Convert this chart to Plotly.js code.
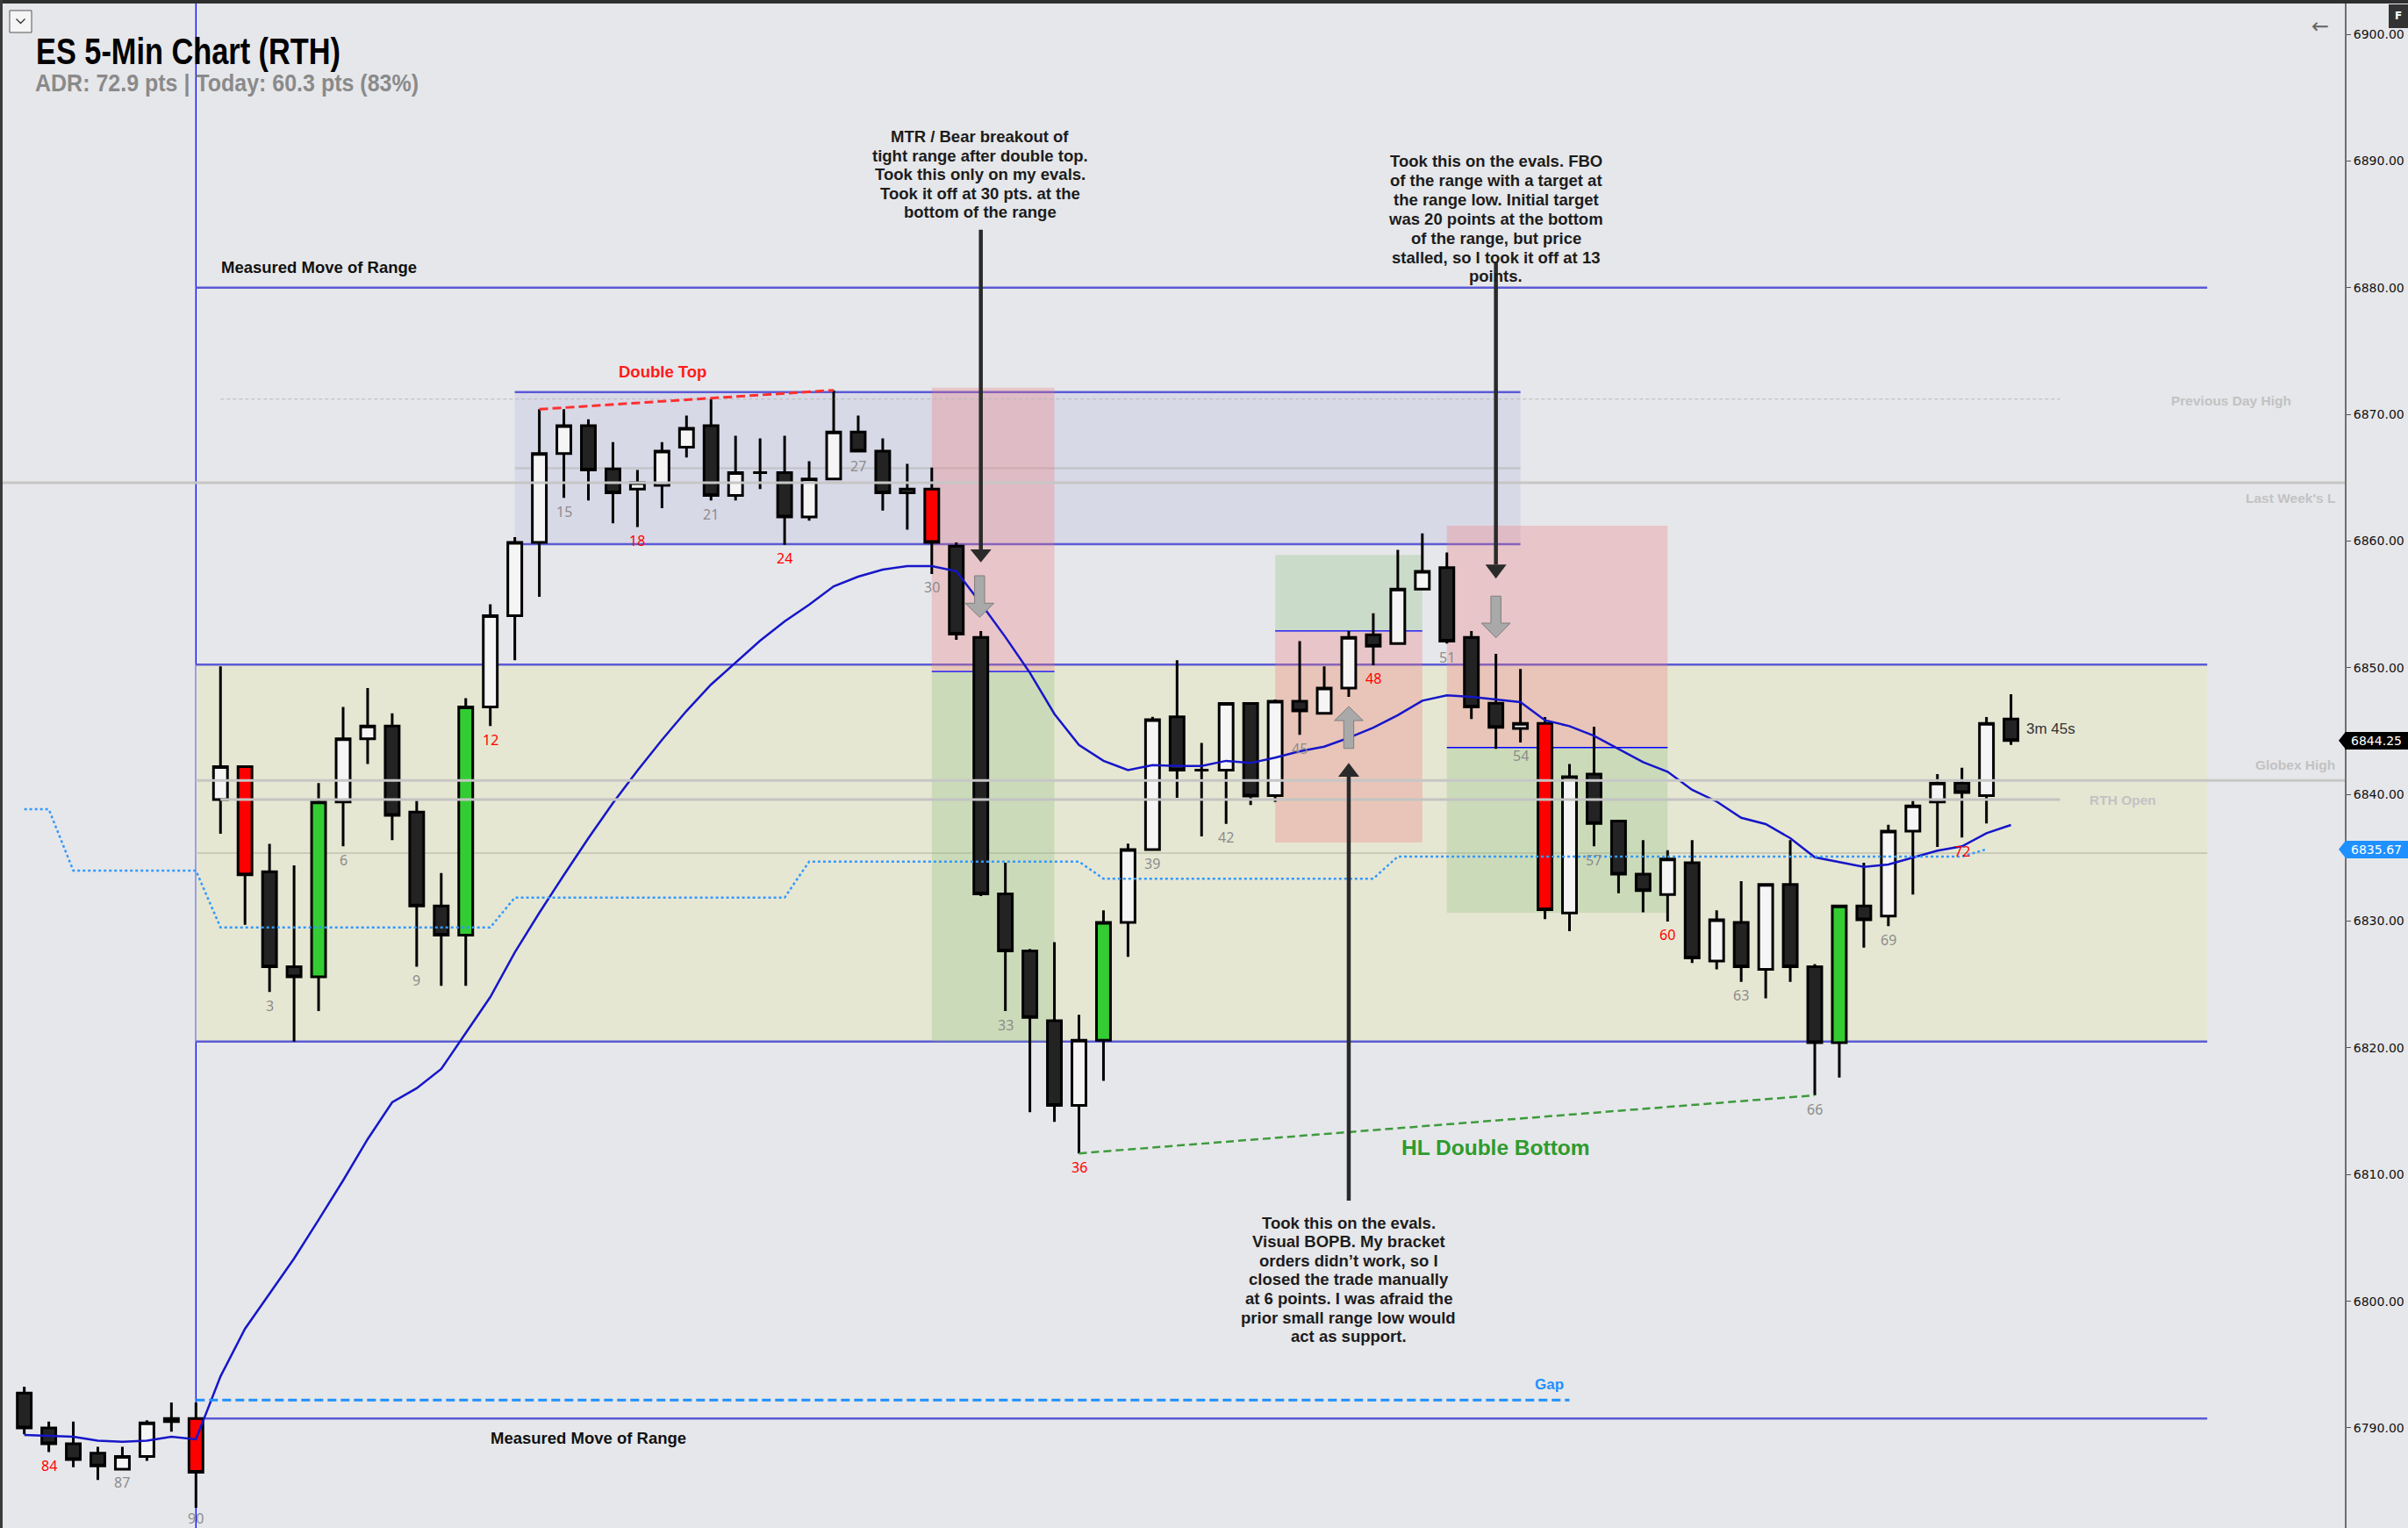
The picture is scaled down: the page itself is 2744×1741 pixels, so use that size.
<!DOCTYPE html>
<html>
<head>
<meta charset="utf-8">
<script src="https://cdn.plot.ly/plotly-3.0.1.min.js"></script>
<style>
html,body{margin:0;padding:0;background:#e6e7ea;overflow:hidden;}
#chart{width:2744px;height:1741px;}
</style>
</head>
<body>
<div id="chart"></div>
<script>
// ---------------- DATA ----------------
const barNum = [83,84,85,86,87,88,89,90,
 1,2,3,4,5,6,7,8,9,10,
 11,12,13,14,15,16,17,18,19,20,
 21,22,23,24,25,26,27,28,29,30,
 31,32,33,34,35,36,37,38,39,40,
 41,42,43,44,45,46,47,48,49,50,
 51,52,53,54,55,56,57,58,59,60,
 61,62,63,64,65,66,67,68,69,70,
 71,72,73,74];

const opens = [6792.75,6790.0,6788.75,6788.0,6786.75,6787.75,6790.5,6790.75,
 6839.6,6842.2,6833.9,6826.4,6825.6,6839.4,6844.4,6845.4,6838.6,6831.2,
 6828.9,6846.9,6854.1,6859.9,6866.9,6869.1,6865.7,6864.1,6864.4,6867.4,
 6869.1,6863.6,6865.4,6865.4,6861.9,6864.9,6868.6,6867.1,6863.8,6864.1,
 6859.6,6852.4,6832.15,6827.64,6822.14,6815.45,6820.6,6829.89,6835.65,6846.13,
 6841.92,6841.92,6847.18,6839.9,6847.35,6846.4,6848.4,6852.6,6851.9,6856.2,
 6857.9,6852.4,6847.2,6845.2,6845.6,6830.65,6841.6,6837.9,6833.7,6832.1,
 6834.6,6826.85,6829.9,6826.2,6832.9,6826.4,6820.4,6831.2,6830.4,6837.1,
 6839.4,6840.9,6839.9,6845.95];

const highs = [6793.25,6790.5,6790.5,6788.5,6788.5,6790.6,6792.0,6792.0,
 6850.1,6842.3,6836.1,6834.4,6840.9,6846.9,6848.4,6846.4,6839.5,6833.8,
 6847.6,6855.0,6860.3,6870.4,6870.4,6869.6,6867.8,6865.6,6867.8,6869.9,
 6871.2,6868.3,6868.1,6868.3,6866.3,6871.9,6869.9,6868.1,6866.1,6865.8,
 6859.9,6852.9,6834.6,6827.8,6828.34,6822.6,6830.85,6836.12,6846.13,6850.6,
 6844.07,6847.28,6847.28,6847.5,6852.1,6850.1,6852.9,6854.3,6859.3,6860.6,
 6859.1,6852.9,6851.1,6849.9,6846.1,6842.4,6845.35,6837.9,6836.4,6835.6,
 6836.4,6830.85,6833.15,6833.0,6836.4,6826.6,6831.3,6834.6,6837.6,6839.5,
 6841.6,6842.1,6846.1,6847.9];

const lows = [6789.5,6788.1,6786.9,6785.9,6786.75,6787.4,6789.7,6783.7,
 6836.9,6829.7,6824.4,6820.5,6822.9,6835.9,6842.4,6836.4,6826.4,6824.9,
 6824.9,6845.4,6850.6,6855.6,6863.4,6863.2,6861.4,6861.1,6862.6,6866.6,
 6863.2,6863.2,6864.1,6859.7,6861.6,6864.8,6867.0,6862.4,6860.9,6857.4,
 6852.2,6831.98,6822.9,6814.92,6814.16,6811.67,6817.4,6827.18,6835.6,6839.73,
 6836.69,6837.68,6839.17,6839.4,6844.7,6846.3,6847.7,6850.2,6851.8,6856.1,
 6851.9,6845.95,6843.6,6844.1,6830.15,6829.2,6835.9,6832.2,6830.7,6829.97,
 6826.7,6826.2,6825.2,6823.9,6825.2,6816.25,6817.65,6827.9,6829.6,6832.1,
 6835.85,6836.6,6837.7,6843.9];

const closes = [6790.0,6788.75,6787.5,6787.0,6787.75,6790.4,6790.75,6786.5,
 6842.2,6833.65,6826.4,6825.6,6839.4,6844.4,6845.4,6838.35,6831.2,6828.9,
 6846.9,6854.1,6859.9,6866.9,6869.1,6865.6,6863.8,6864.6,6867.1,6868.9,
 6863.6,6865.4,6865.4,6861.9,6864.9,6868.6,6867.1,6863.8,6864.1,6859.9,
 6852.65,6832.15,6827.64,6822.4,6815.45,6820.6,6829.89,6835.65,6845.9,6841.92,
 6841.92,6847.18,6839.87,6847.35,6846.6,6848.4,6852.4,6851.7,6856.2,6857.6,
 6852.1,6846.9,6845.3,6845.6,6830.9,6841.4,6837.7,6833.7,6832.4,6834.9,
 6827.1,6830.1,6826.4,6832.9,6826.4,6820.4,6831.2,6830.1,6837.1,6839.1,
 6840.9,6840.15,6845.6,6844.25];

// w = bull (white), b = bear (black), r = red signal bar, g = green signal bar
const colorTag = ['b','b','b','b','w','w','w','r',
 'w','r','b','b','g','w','w','b','b','b',
 'g','w','w','w','w','b','b','w','w','w',
 'b','w','w','b','w','w','b','b','w','r',
 'b','b','b','b','b','w','g','w','w','b',
 'w','w','b','w','b','w','w','b','w','w',
 'b','b','b','w','r','w','b','b','b','w',
 'b','w','b','w','b','b','g','b','w','w',
 'w','b','w','b'];

const ema20 = [6789.45,6789.4,6789.3,6789.0,6788.9,6789.0,6789.3,6789.1,
 6794.06,6797.83,6800.6,6803.37,6806.42,6809.53,6812.79,6815.7,6816.81,6818.33,
 6821.17,6824.01,6827.54,6830.66,6833.64,6836.55,6839.32,6841.88,6844.31,6846.59,
 6848.67,6850.4,6852.13,6853.66,6854.97,6856.43,6857.19,6857.74,6858.02,6858.02,
 6857.62,6855.07,6852.42,6849.6,6846.35,6843.9,6842.65,6841.92,6842.32,6842.25,
 6842.25,6842.65,6842.48,6842.9,6843.4,6843.77,6844.47,6845.26,6846.25,6847.4,
 6847.82,6847.7,6847.51,6847.28,6845.85,6845.39,6844.63,6843.59,6842.55,6841.79,
 6840.36,6839.44,6838.16,6837.66,6836.55,6835.04,6834.66,6834.28,6834.47,6835.04,
 6835.56,6835.9,6836.94,6837.59];

const stepLine = [6838.83,6838.83,6833.98,6833.98,6833.98,6833.98,6833.98,6833.98,
 6829.5,6829.5,6829.5,6829.5,6829.5,6829.5,6829.5,6829.5,6829.5,6829.5,
 6829.5,6829.5,6831.86,6831.86,6831.86,6831.86,6831.86,6831.86,6831.86,6831.86,
 6831.86,6831.86,6831.86,6831.86,6834.7,6834.7,6834.7,6834.7,6834.7,6834.7,
 6834.7,6834.7,6834.7,6834.7,6834.7,6834.7,6833.35,6833.35,6833.35,6833.35,
 6833.35,6833.35,6833.35,6833.35,6833.35,6833.35,6833.35,6833.35,6835.1,6835.1,
 6835.1,6835.1,6835.1,6835.1,6835.1,6835.1,6835.1,6835.1,6835.1,6835.1,
 6835.1,6835.1,6835.1,6835.1,6835.1,6835.1,6835.1,6835.1,6835.1,6835.1,
 6835.1,6835.1,6835.67,null];

const labelBars = [84,87,90,3,6,9,12,15,18,21,24,27,30,33,36,39,42,45,48,51,54,57,60,63,66,69,72];
const redLabels = [84,12,18,24,36,48,60,72];

// levels
const rangeHi = 6850.25, rangeLo = 6820.5, mmHi = 6880, mmLo = 6790.75;
const tightHi = 6871.75, tightLo = 6859.75;
const prevDayHigh = 6871.2, lastWeekLow = 6864.6, globexHigh = 6841.1, rthOpen = 6839.6, gapLevel = 6792.2;
const lastPrice = 6844.25, bandPrice = 6835.67;
const trades = [
  {x0:30, x1:35, stop:6872.1, entry:6849.7, target:6820.5, side:'short'},
  {x0:44, x1:50, stop:6836.2, entry:6852.9, target:6858.9, side:'long'},
  {x0:51, x1:60, stop:6861.2, entry:6843.7, target:6830.66, side:'short'}
];

// ---------------- GEOMETRY HELPERS ----------------
const W = 2744, H = 1741, PW = 2672;
const X0PX = 223.3, DXPX = 27.95, Y6900PX = 39, PXPT = 14.436;
const B = px => (px - X0PX) / DXPX;
const P = py => 6900 - (py - Y6900PX) / PXPT;
const YPX = p => Y6900PX + (6900 - p) * PXPT;
const PX = px => px / PW;
const PY = py => 1 - py / H;
const pos = barNum.map((n, i) => i - 7);
const idxOf = n => barNum.indexOf(n);

// ---------------- TRACES ----------------
const traces = [];
traces.push({type:'scatter', mode:'lines', x:pos, y:ema20, line:{color:'#1616c8', width:2.5},
  hoverinfo:'skip', showlegend:false});
const fills = {w:'#f5f5f5', b:'#232323', r:'#ff0000', g:'#33cc33'};
['w','b','r','g'].forEach(k => {
  const ids = colorTag.map((c, i) => c === k ? i : -1).filter(i => i >= 0);
  traces.push({
    type:'candlestick',
    x: ids.map(i => pos[i]), open: ids.map(i => opens[i]), high: ids.map(i => highs[i]),
    low: ids.map(i => lows[i]), close: ids.map(i => closes[i]),
    increasing:{line:{color:'#000', width:3}, fillcolor:fills[k]},
    decreasing:{line:{color:'#000', width:3}, fillcolor:fills[k]},
    whiskerwidth:0, hoverinfo:'skip', showlegend:false
  });
});
traces.push({type:'scatter', mode:'lines', x:pos, y:stepLine, line:{color:'#3399ff', width:2.5, dash:'dot'},
  hoverinfo:'skip', showlegend:false});

// ---------------- SHAPES ----------------
const shapes = [];
const hline = (x0, x1, y, color, width, dash, layer) => ({type:'line', xref:'x', yref:'y', x0:x0, x1:x1, y0:y, y1:y,
  line:{color:color, width:width, dash:dash || 'solid'}, layer:layer || 'below'});
const rect = (x0, x1, y0, y1, fill, layer) => ({type:'rect', xref:'x', yref:'y', x0:x0, x1:x1, y0:y0, y1:y1,
  fillcolor:fill, line:{width:0}, layer:layer || 'below'});

shapes.push(rect(0, 82, rangeLo, rangeHi, '#e6e7d3'));
shapes.push(rect(13, 54, tightLo, tightHi, '#d8d9e7'));
shapes.push(hline(13, 54, (tightHi + tightLo) / 2, '#c4c4cc', 2.5));
shapes.push(hline(0, 82, (rangeHi + rangeLo) / 2, '#cacab9', 2));
const rangeBlue = '#5b5bd6';
shapes.push(hline(0, 82, rangeHi, rangeBlue, 2.5));
shapes.push(hline(0, 82, rangeLo, rangeBlue, 2.5));
shapes.push(hline(13, 54, tightHi, rangeBlue, 2.5));
shapes.push(hline(13, 54, tightLo, rangeBlue, 2.5));
shapes.push(hline(0, 82, mmHi, rangeBlue, 2.5));
shapes.push(hline(0, 82, mmLo, rangeBlue, 2.5));
shapes.push({type:'line', xref:'x', yref:'paper', x0:0, x1:0, y0:0, y1:1, line:{color:'#0000ff', width:1.3}, layer:'below'});
const riskFill = 'rgba(240,118,121,0.3)', rewardFill = 'rgba(144,192,125,0.3)';
trades.forEach(t => {
  shapes.push(rect(t.x0, t.x1, Math.min(t.stop, t.entry), Math.max(t.stop, t.entry), riskFill));
  shapes.push(rect(t.x0, t.x1, Math.min(t.target, t.entry), Math.max(t.target, t.entry), rewardFill));
  shapes.push(hline(t.x0, t.x1, t.entry, '#0000ff', 1.3));
});

shapes.push(hline(-9, 90, lastWeekLow, '#c6c6c6', 3, 'solid', 'above'));
shapes.push(hline(0, 90, globexHigh, '#c6c6c6', 3, 'solid', 'above'));
shapes.push(hline(1, 76, rthOpen, '#c3c3c3', 3, 'solid', 'above'));
shapes.push(hline(1, 76, prevDayHigh, '#b9b9b9', 1, '4px,3px', 'above'));
shapes.push(hline(0, 56, gapLevel, '#1e90ff', 3, '10px,5px', 'above'));
shapes.push({type:'line', xref:'x', yref:'y', x0:pos[idxOf(14)], y0:highs[idxOf(14)], x1:pos[idxOf(26)], y1:highs[idxOf(26)],
  line:{color:'#ff3030', width:3, dash:'10px,5px'}, layer:'above'});
shapes.push({type:'line', xref:'x', yref:'y', x0:pos[idxOf(36)], y0:lows[idxOf(36)], x1:pos[idxOf(66)], y1:lows[idxOf(66)],
  line:{color:'#3d9b3d', width:2.5, dash:'9px,5px'}, layer:'above'});

const darkArrows = [[32, 6884.57, 6859.34, 6858.32], [53, 6882.06, 6858.14, 6857.03], [47, 6807.94, 6841.4, 6842.48]];
darkArrows.forEach(a => {
  const [x, s, b, t] = a;
  shapes.push({type:'line', xref:'x', yref:'y', x0:x, x1:x, y0:s, y1:b, line:{color:'#2a2a2a', width:4.5}, layer:'above'});
  shapes.push({type:'path', xref:'x', yref:'y', path:`M ${x-0.43},${b} L ${x+0.43},${b} L ${x},${t} Z`,
    fillcolor:'#2a2a2a', line:{width:0}, layer:'above'});
});
const grayArrows = [[31.95, 6857.26, 6855.09, 6853.98], [53, 6855.65, 6853.52, 6852.36], [47, 6843.63, 6845.83, 6846.94]];
grayArrows.forEach(a => {
  const [x, s, b, t] = a, sw = 0.204, hw = 0.584;
  shapes.push({type:'path', xref:'x', yref:'y',
    path:`M ${x-sw},${s} L ${x+sw},${s} L ${x+sw},${b} L ${x+hw},${b} L ${x},${t} L ${x-hw},${b} L ${x-sw},${b} Z`,
    fillcolor:'#a9a9a9', line:{color:'#7d7d7d', width:1}, layer:'above'});
});

shapes.push({type:'rect', xref:'paper', yref:'paper', x0:-0.01, x1:1.03, y0:PY(4), y1:1.01, fillcolor:'#2f2f2f', line:{width:0}, layer:'above'});
shapes.push({type:'rect', xref:'paper', yref:'paper', x0:-0.01, x1:PX(3), y0:-0.01, y1:1.01, fillcolor:'#3a3a3a', line:{width:0}, layer:'above'});
shapes.push({type:'rect', xref:'paper', yref:'paper', x0:PX(11), x1:PX(36), y0:PY(37), y1:PY(12), fillcolor:'#f5f5f5', line:{color:'#555', width:1}, layer:'above'});
shapes.push({type:'path', xref:'paper', yref:'paper', path:`M ${PX(18.5)},${PY(21.5)} L ${PX(23.5)},${PY(26.5)} L ${PX(28.5)},${PY(21.5)}`, line:{color:'#333', width:1.3}, layer:'above'});
shapes.push({type:'rect', xref:'paper', yref:'paper', x0:PX(2722), x1:PX(2744), y0:PY(32), y1:PY(5), fillcolor:'#333', line:{width:0}, layer:'above'});
[[lastPrice, '#000'], [bandPrice, '#1e90ff']].forEach(tg => {
  const yp = YPX(tg[0]);
  shapes.push({type:'path', xref:'paper', yref:'paper', path:`M ${PX(2665)},${PY(yp)} L ${PX(2673)},${PY(yp-10)} L ${PX(2673)},${PY(yp+10)} Z`,
    fillcolor:tg[1], line:{width:0}, layer:'above'});
});

// ---------------- ANNOTATIONS ----------------
const ann = [];
const SANS = 'Liberation Sans, Arial, sans-serif';
ann.push({xref:'paper', yref:'paper', x:PX(40), y:PY(95), xanchor:'left', yanchor:'middle', showarrow:false,
  text:'<b>ADR: 72.9 pts | Today: 60.3 pts (83%)</b>', font:{family:SANS, size:28, color:'#8a8a8a'}});
const txt = (x, y, text, opts) => Object.assign({xref:'x', yref:'y', x:x, y:y, text:text, showarrow:false,
  xanchor:'center', yanchor:'middle'}, opts);
ann.push(txt(B(250), P(304.5), '<b>Measured Move of Range</b>', {xanchor:'left', font:{family:SANS, size:18.5, color:'#111'}}));
ann.push(txt(B(556.5), P(1638), '<b>Measured Move of Range</b>', {xanchor:'left', font:{family:SANS, size:18.5, color:'#111'}}));
ann.push(txt(B(754.7), P(423.3), '<b>Double Top</b>', {font:{family:SANS, size:18.5, color:'#ff1a1a'}}));
ann.push(txt(B(1704.5), P(1307), '<b>HL Double Bottom</b>', {font:{family:SANS, size:24.5, color:'#2e9b2e'}}));
ann.push(txt(B(1765), P(1577), '<b>Gap</b>', {font:{family:SANS, size:17, color:'#1e90ff'}}));
ann.push(txt(B(2306.7), P(830), '3m 45s', {xanchor:'left', font:{family:SANS, size:17, color:'#333'}}));

const notes = [
  {x:1116.5, y0:155.75, step:21.42, lines:['MTR / Bear breakout of', 'tight range after double top.', 'Took this only on my evals.', 'Took it off at 30 pts. at the', 'bottom of the range']},
  {x:1704.5, y0:183.75, step:21.87, lines:['Took this on the evals. FBO', 'of the range with a target at', 'the range low. Initial target', 'was 20 points at the bottom', 'of the range, but price', 'stalled, so I took it off at 13', 'points.']},
  {x:1536.5, y0:1393, step:21.6, lines:['Took this on the evals.', 'Visual BOPB. My bracket', 'orders didn\u2019t work, so I', 'closed the trade manually', 'at 6 points. I was afraid the', 'prior small range low would', 'act as support.']}
];
notes.forEach(n => n.lines.forEach((l, k) => {
  ann.push({xref:'x', yref:'paper', x:B(n.x), y:PY(n.y0 + k * n.step), xanchor:'center', yanchor:'middle', showarrow:false,
    text:'<b>' + l + '</b>', font:{family:SANS, size:18.5, color:'#1c1c1c'}});
}));

labelBars.forEach(n => {
  const i = idxOf(n);
  const ly = YPX(lows[i]);
  const shift = Math.min(15.5, H - 11 - ly);
  ann.push({xref:'x', yref:'y', x:pos[i], y:lows[i], yshift:-shift, xanchor:'center', yanchor:'middle', showarrow:false,
    text:String(n), font:{family:'Noto Sans, DejaVu Sans, sans-serif', size:16, color: redLabels.includes(n) ? '#ff0000' : '#8c8c8c'}});
});

const LVL = {family:SANS, size:15.5, color:'#c2c2c2'};
ann.push({xref:'paper', yref:'paper', x:PX(2542.75), y:PY(456.75), xanchor:'center', yanchor:'middle', showarrow:false, text:'<b>Previous Day High</b>', font:LVL});
ann.push({xref:'paper', yref:'paper', x:PX(2663), y:PY(567), xanchor:'right', yanchor:'middle', showarrow:false, text:'<b>Last Week\'s L</b>', font:LVL});
ann.push({xref:'paper', yref:'paper', x:PX(2663), y:PY(871.5), xanchor:'right', yanchor:'middle', showarrow:false, text:'<b>Globex High</b>', font:LVL});
ann.push({xref:'paper', yref:'paper', x:PX(2378.7), y:PY(911.7), xanchor:'left', yanchor:'middle', showarrow:false, text:'<b>RTH Open</b>', font:LVL});

[[lastPrice, '#000000'], [bandPrice, '#1e90ff']].forEach(tg => {
  ann.push({xref:'paper', yref:'paper', x:PX(2672), y:PY(YPX(tg[0])), xanchor:'left', yanchor:'middle', showarrow:false,
    text:tg[0].toFixed(2), bgcolor:tg[1], width:72, height:20, borderpad:0, borderwidth:0, align:'center',
    font:{family:'DejaVu Sans, sans-serif', size:14, color:'#ffffff'}});
});
ann.push({xref:'paper', yref:'paper', x:PX(2644), y:PY(30), xanchor:'center', yanchor:'middle', showarrow:false,
  text:'\u2190', font:{family:'DejaVu Sans, sans-serif', size:24, color:'#666'}});
ann.push({xref:'paper', yref:'paper', x:PX(2733), y:PY(18.5), xanchor:'center', yanchor:'middle', showarrow:false,
  text:'<b>F</b>', font:{family:'DejaVu Sans, sans-serif', size:12, color:'#ffffff'}});

// ---------------- LAYOUT ----------------
const layout = {
  width:W, height:H,
  margin:{l:0, r:W - PW, t:0, b:0, pad:0},
  paper_bgcolor:'#e6e7ea', plot_bgcolor:'#e6e7ea',
  showlegend:false,
  boxgap:0.43, boxgroupgap:0,
  title:{text:'<b>ES 5-Min Chart (RTH)</b>', xref:'container', yref:'container', x:41 / W, xanchor:'left', y:1 - 58 / H, yanchor:'middle',
    font:{family:SANS, size:42, color:'#000'}},
  xaxis:{range:[B(0), B(PW)], visible:false, fixedrange:true, rangeslider:{visible:false}, showgrid:false, zeroline:false},
  yaxis:{range:[P(H), P(0)], side:'right', tick0:6790, dtick:10, tickformat:'.2f', ticks:'outside', ticklen:5, tickwidth:1,
    tickcolor:'#555', tickfont:{family:'DejaVu Sans, sans-serif', size:14, color:'#111'}, showline:true, linecolor:'#6f6f6f',
    linewidth:2, showgrid:false, zeroline:false, fixedrange:true, automargin:false},
  shapes:shapes,
  annotations:ann
};

Plotly.newPlot('chart', traces, layout, {staticPlot:true, displayModeBar:false}).then(gd => {
  // condensed heading look: squeeze the title and ADR line to the reference widths, keeping their left edges
  const squeeze = (el, len, left) => {
    if (!el) return;
    el.setAttribute('textLength', len);
    el.setAttribute('lengthAdjust', 'spacingAndGlyphs');
    const r = el.getBoundingClientRect();
    const hostLeft = gd.getBoundingClientRect().left;
    const dx = left - (r.left - hostLeft);
    const prev = el.getAttribute('transform') || '';
    el.setAttribute('transform', prev + ' translate(' + dx + ',0)');
  };
  squeeze(gd.querySelector('.gtitle'), 347, 41);
  gd.querySelectorAll('.annotation-text').forEach(t => {
    if (t.textContent.indexOf('ADR:') === 0) squeeze(t, 437, 40);
  });
});
</script>
</body>
</html>
